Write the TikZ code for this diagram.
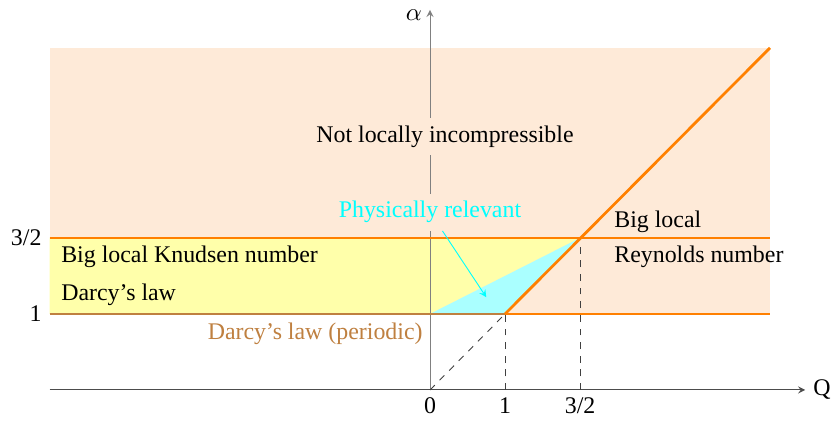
\documentclass[tikz,border=0pt]{standalone}
\usepackage{amsmath}
\usepackage{fontspec}
\setmainfont{Liberation Serif}
\usepackage{tikz}
\usepackage{xcolor}
\definecolor{lineorange}{RGB}{255,128,0}
\definecolor{peach}{RGB}{254,234,216}
\definecolor{paleyellow}{RGB}{255,255,170}
\definecolor{palecyan}{RGB}{170,255,255}
\definecolor{physcyan}{RGB}{0,255,255}
\definecolor{darcybrown}{RGB}{191,128,64}

\begin{document}
\begin{tikzpicture}[x=1.16cm, y=1.175cm, >=stealth,
    font=\fontsize{10.5}{12.6}\selectfont]
  \useasboundingbox (-5.73,-0.42) rectangle (5.41,5.13);
  % --- regions -------------------------------------------------------
  \fill[peach] (-5.07,1) rectangle (4.53,4.5);
  \fill[paleyellow] (-5.07,1) -- (0,1) -- (2,2) -- (-5.07,2) -- cycle;
  \fill[palecyan] (0,1) -- (1,1) -- (2,2) -- cycle;
  % --- axes ----------------------------------------------------------
  \draw[->,black!70] (-5.07,0) -- (5,0) node[right,black] {Q};
  \draw[->,gray] (0,0) -- (0,5);
  \node[left] (alab) at (0,4.93) {$\alpha$};
  \foreach \x in {1,2}
    \draw[dashed,black!75] (\x,0) -- (\x,\x);
  \draw[dashed,black!75] (0,0) -- (1,1);
  \foreach \x/\t in {0/0,1/1,2/{3/2}}
    \node[below] (tq\x) at (\x,0) {\t};
  \node[left] (ta1) at (-5.07,1) {1};
  \node[left] (ta2) at (-5.07,2) {3/2};
  % --- boundaries ----------------------------------------------------
  \draw[line width=1.2pt,darcybrown] (-5.07,1) -- (1,1);
  \draw[line width=1.2pt,lineorange] (1,1) -- (4.53,1);
  \draw[line width=1.2pt,lineorange] (-5.07,2) -- (4.53,2);
  \draw[line width=1.2pt,lineorange] (1,1) -- (4.53,4.5);
  % --- labels --------------------------------------------------------
  \node[fill=peach] (noinc) at (0.2,3.33) {Not locally incompressible};
  \node[physcyan,fill=peach] (phys) at (0,2.34) {Physically relevant};
  \coordinate (physend) at (0.75,1.22);
  \draw[->,physcyan] (phys) -- (physend);
  \node[anchor=west,align=left] (knud) at (-5.02,1.5)
       {Big local Knudsen number\\[4pt] Darcy's law};
  \node[anchor=west,align=left] (reyn) at (2.35,1.98)
       {Big local\\[3pt] Reynolds number};
  \node[darcybrown,fill=white] (darcyp) at (-1.53,0.74) {Darcy's law (periodic)};
\end{tikzpicture}
\end{document}
